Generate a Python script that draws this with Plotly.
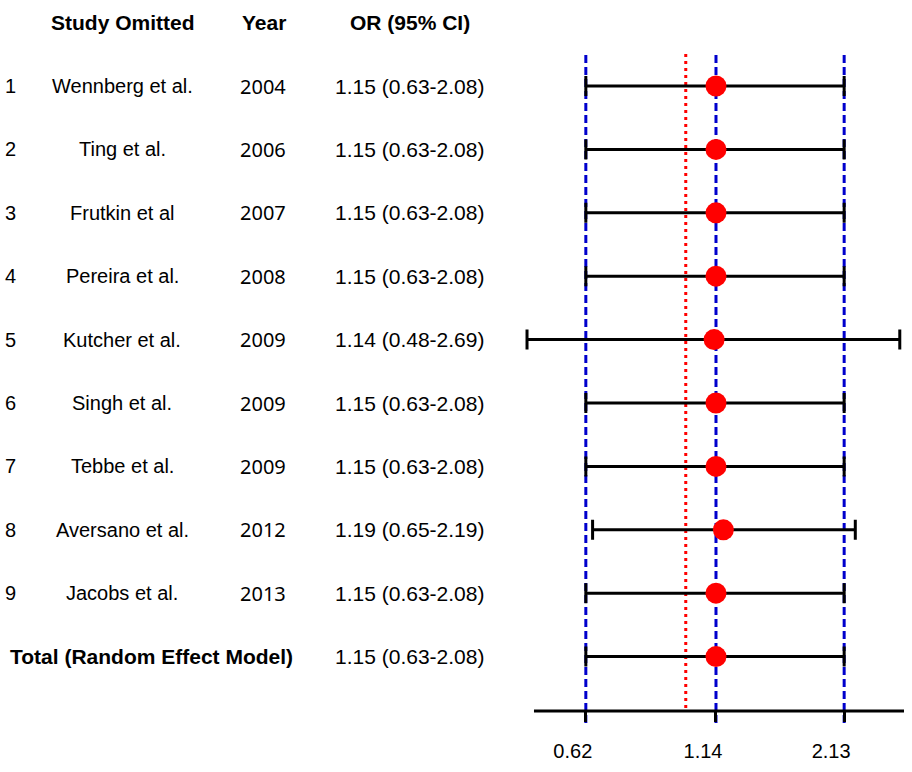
import plotly.graph_objects as go

# Leave-one-out sensitivity analysis data
row_numbers = ["1", "2", "3", "4", "5", "6", "7", "8", "9"]
studies = ["Wennberg et al.", "Ting et al.", "Frutkin et al", "Pereira et al.",
           "Kutcher et al.", "Singh et al.", "Tebbe et al.", "Aversano et al.",
           "Jacobs et al."]
years = [2004, 2006, 2007, 2008, 2009, 2009, 2009, 2012, 2013]
odds_ratio = [1.15, 1.15, 1.15, 1.15, 1.14, 1.15, 1.15, 1.19, 1.15]
ci_low = [0.63, 0.63, 0.63, 0.63, 0.48, 0.63, 0.63, 0.65, 0.63]
ci_high = [2.08, 2.08, 2.08, 2.08, 2.69, 2.08, 2.08, 2.19, 2.08]

total_label = "Total (Random Effect Model)"
total_or = 1.15
total_low = 0.63
total_high = 2.08

headers = ["Study Omitted", "Year", "OR (95% CI)"]
tick_vals = [total_low, total_or, total_high]
tick_text = ["0.62", "1.14", "2.13"]
null_value = 1.0
axis_span = [0.4957, 2.743]

W, H = 912, 772
FONT = "Liberation Sans, Arial, sans-serif"
YEAR_FONT = "Noto Sans, Open Sans, sans-serif"

all_or = odds_ratio + [total_or]
all_low = ci_low + [total_low]
all_high = ci_high + [total_high]
rows = list(range(1, len(all_or) + 1))

AXIS_Y = (H - 711) / H

fig = go.Figure()

fig.add_trace(go.Scatter(
    x=all_or, y=rows, mode="markers",
    marker=dict(color="#ff0000", size=21, line=dict(width=0)),
    error_x=dict(type="data", symmetric=False,
                 array=[h - o for h, o in zip(all_high, all_or)],
                 arrayminus=[o - l for o, l in zip(all_or, all_low)],
                 color="black", thickness=3, width=10),
    showlegend=False, hoverinfo="skip",
))

# Reference lines: pooled estimate and its CI (blue), null effect (red)
for v in tick_vals:
    fig.add_shape(type="line", xref="x", yref="paper", x0=v, x1=v,
                  y0=(H - 723) / H, y1=(H - 51) / H, layer="below",
                  line=dict(color="#0000cc", width=3, dash="8px,4px"))
fig.add_shape(type="line", xref="x", yref="paper", x0=null_value, x1=null_value,
              y0=(H - 708) / H, y1=(H - 51) / H, layer="below",
              line=dict(color="#ff0000", width=3, dash="3px,4px"))
# Horizontal axis line
fig.add_shape(type="line", xref="x", yref="paper", x0=axis_span[0], x1=axis_span[1],
              y0=AXIS_Y, y1=AXIS_Y, layer="above",
              line=dict(color="black", width=3))


def txt(size, family=FONT):
    return dict(family=family, size=size, color="black")


ann = []
col_x = {"num": 10, "study": 122, "year": 263, "or": 409}
for hdr, cx in zip(headers, [123, 264, 410]):
    ann.append(dict(text="<b>%s</b>" % hdr, x=cx / W, y=0, font=txt(21)))
for i, r in enumerate(rows[:-1]):
    ann.append(dict(text=row_numbers[i], x=col_x["num"] / W, y=r, font=txt(20)))
    ann.append(dict(text=studies[i], x=col_x["study"] / W, y=r, font=txt(20)))
    ann.append(dict(text=str(years[i]), x=col_x["year"] / W, y=r,
                    font=txt(20, family=YEAR_FONT)))
    ann.append(dict(text="%.2f (%.2f-%.2f)" % (all_or[i], all_low[i], all_high[i]),
                    x=col_x["or"] / W, y=r, font=txt(21)))
ann.append(dict(text="<b>%s</b>" % total_label, x=8 / W, y=rows[-1], xanchor="left",
                font=txt(21)))
ann.append(dict(text="%.2f (%.2f-%.2f)" % (total_or, total_low, total_high),
                x=col_x["or"] / W, y=rows[-1], font=txt(21)))

for a in ann:
    a.setdefault("xref", "paper")
    a.setdefault("yref", "y")
    a.setdefault("showarrow", False)
    a.setdefault("xanchor", "center")
    a.setdefault("yanchor", "middle")
    a["yshift"] = 0

fig.update_layout(
    width=W, height=H,
    margin=dict(l=0, r=0, t=0, b=0),
    paper_bgcolor="white", plot_bgcolor="white",
    annotations=ann,
    xaxis=dict(type="log", domain=[515 / W, 1.0],
               range=[-0.3429, 0.4543],
               showline=False,
               ticks="outside", ticklen=10, tickwidth=3, tickcolor="black",
               tickvals=tick_vals, ticktext=tick_text,
               ticklabelshift=-13, ticklabelstandoff=12,
               tickfont=txt(20),
               showgrid=False, zeroline=False, fixedrange=True),
    yaxis=dict(domain=[AXIS_Y, 1], range=[10.858, -0.3565],
               visible=False, showgrid=False, zeroline=False, fixedrange=True),
)

fig.write_html("out.html")
